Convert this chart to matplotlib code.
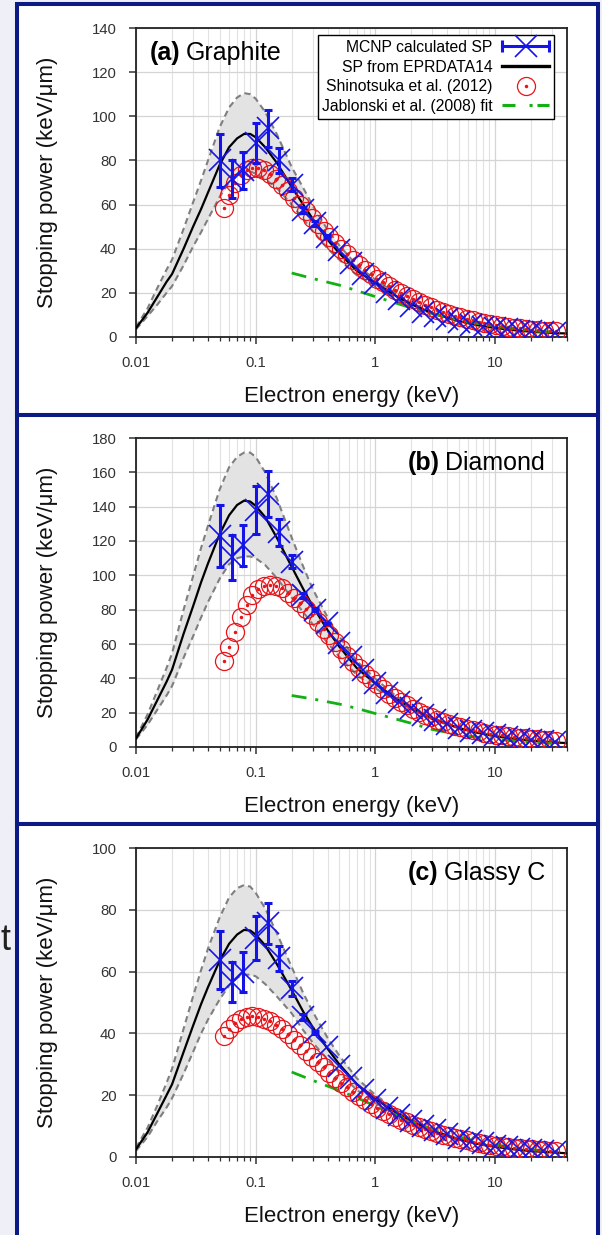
import matplotlib
matplotlib.use('Agg')
import matplotlib.pyplot as plt
from matplotlib.lines import Line2D
from matplotlib.patches import Rectangle
from matplotlib.legend_handler import HandlerLine2D, HandlerTuple
from matplotlib.ticker import LogLocator, NullFormatter

plt.rcParams['font.family'] = ['Liberation Sans', 'DejaVu Sans']

# ---- data ----
# EPRDATA14 stopping power (black line) and its uncertainty band (grey)
E_line = [0.01, 0.0125, 0.015, 0.018, 0.02, 0.025, 0.03, 0.035, 0.04, 0.05, 0.06, 0.07,
          0.08, 0.09, 0.1, 0.12, 0.15, 0.2, 0.25, 0.3, 0.4, 0.5, 0.7, 1, 1.5, 2, 3, 5,
          7, 10, 15, 20, 30, 40]

black_a = [4, 11, 18, 25, 28.5, 40, 50, 58, 65.5, 78, 86, 90, 92, 92, 90.5, 86, 79, 68,
           60, 53.5, 44, 38, 30, 24.5, 18.5, 14.8, 10.8, 7.2, 5.4, 4.1, 3, 2.4, 1.8, 1.6]
upper_a = [4.5, 13, 22, 30.5, 35, 49, 61, 71, 80, 95, 104, 108.5, 110.5, 110, 108, 102, 92,
           77, 67.5, 59.5, 48.5, 41.5, 32.5, 26, 19.6, 15.5, 11.2, 7.3]
lower_a = [3.5, 9.5, 14.5, 20, 23, 32.5, 41, 47.5, 53.5, 63.5, 70, 73, 74.5, 75, 74, 71.5,
           67.5, 60, 53.5, 48, 40, 35, 28, 23, 17.5, 14.2, 10.4, 7.1]

black_b = [5, 16, 27, 38, 45, 66, 82, 96, 107, 124, 135, 141, 143.5, 143, 140.5, 134, 122,
           105, 92, 82, 68, 58.5, 46, 37, 28, 22.8, 16.5, 11, 8.4, 6.3, 4.6, 3.7, 2.7, 2.3]
upper_b = [5.5, 19, 32.5, 46, 54.5, 80, 99.5, 116, 129, 150, 163, 169, 171.5, 171.5, 169,
           160, 145, 122, 105, 92, 75.5, 64.5, 50, 39.8, 29.5, 23.6, 16.9, 11.1]
lower_b = [4.5, 13, 21.5, 30, 35.5, 52, 64.5, 75.5, 84.5, 98, 106.5, 110, 111, 111, 110,
           106, 98.5, 87, 78.5, 71.5, 60.5, 52.5, 42, 34.2, 26.5, 22, 16.1, 10.9]

black_c = [2.5, 8, 14, 20, 23.5, 34, 42.5, 49.5, 55, 63.5, 69, 72, 73.5, 73.3, 72, 68.5,
           62.5, 54, 47, 42, 35, 30, 23.6, 18.8, 14.3, 11.7, 8.5, 5.7, 4.3, 3.3, 2.4, 1.9,
           1.5, 1.2]
upper_c = [3, 9.5, 16.5, 24, 28.5, 41.5, 52, 60.5, 67.5, 77.5, 84, 87, 88, 87.5, 85.5, 80.5,
           72.5, 61.5, 53, 47, 38.5, 32.8, 25.5, 20.1, 15.1, 12.2, 8.7, 5.8]
lower_c = [2, 6.5, 11.5, 16, 19, 27, 34, 40, 44.5, 51, 55.5, 58, 59, 59, 58.5, 56, 52, 46.5,
           41, 37, 31.5, 27.2, 21.7, 17.5, 13.5, 11.2, 8.3, 5.6]

# MCNP calculated SP (blue crosses with error bars)
mcnp_E = [0.05, 0.063, 0.079, 0.1, 0.126, 0.158, 0.2, 0.251, 0.316, 0.398, 0.501, 0.631,
          0.794, 1.0, 1.26, 1.58, 2.0, 2.51, 3.16, 3.98, 5.01, 6.31, 7.94, 10.0, 12.6, 15.8,
          20.0, 25.1, 31.6]
mcnp_a = [80, 71.5, 75.5, 88, 94.5, 80, 69, 57.5, 51.5, 45.5, 39.5, 33.5, 28.5, 24.5, 20.5,
          17, 14, 11.5, 9.5, 8, 6.7, 5.6, 4.7, 4, 3.4, 2.9, 2.5, 2.2, 1.9]
err_a = [12, 8.5, 8.5, 9, 8.5, 5.5, 3, 1.5, 1, 0.5, 0, 0, 0, 0, 0, 0, 0, 0, 0, 0, 0, 0, 0,
         0, 0, 0, 0, 0, 0]
mcnp_b = [123, 110.5, 117.5, 138, 147.5, 125, 108, 88.5, 80, 72, 60.5, 52.5, 45, 37, 31.5,
          26.5, 22.5, 18.8, 15.8, 13.2, 11, 9.3, 7.9, 6.7, 5.7, 4.9, 4.2, 3.7, 3.2]
err_b = [18, 13, 12, 14, 13.5, 8, 4, 1.5, 1, 0.5, 0, 0, 0, 0, 0, 0, 0, 0, 0, 0, 0, 0, 0,
         0, 0, 0, 0, 0, 0]
mcnp_c = [63.8, 56.7, 60, 70.8, 75.6, 64.3, 54.6, 45.4, 40.3, 35.7, 29.5, 25.5, 21.7, 18.4,
          15.8, 13.6, 11.7, 10, 8.6, 7.3, 6.2, 5.2, 4.4, 3.7, 3.1, 2.6, 2.2, 1.9, 1.6]
err_c = [9.5, 6.5, 6.5, 7.2, 6.6, 4, 2.5, 1, 0.5, 0, 0, 0, 0, 0, 0, 0, 0, 0, 0, 0, 0, 0, 0,
         0, 0, 0, 0, 0, 0]

# Shinotsuka et al. (2012) (red open circles)
shin_E = [0.054, 0.06, 0.067, 0.075, 0.084, 0.094, 0.105, 0.118, 0.132, 0.148,
          0.166, 0.186, 0.208, 0.233, 0.262, 0.293, 0.33, 0.37, 0.41, 0.46,
          0.52, 0.58, 0.65, 0.73, 0.82, 0.92, 1.03, 1.16, 1.3, 1.45,
          1.63, 1.83, 2.05, 2.3, 2.6, 2.9, 3.25, 3.65, 4.1, 4.6,
          5.1, 5.8, 6.5, 7.3, 8.1, 9.1, 10.2, 11.5, 12.9, 14.4,
          16.2, 18.2, 20.4, 22.9, 25.6, 28.7, 32.2]
shin_a = [58.5, 64.5, 70, 73.5, 75.5, 76.5, 76.5, 75.5, 74, 71.5,
          69, 66, 63, 60, 57, 54, 51, 48, 45.5, 42.5,
          40, 37.5, 35, 32.5, 30.5, 28.5, 26.5, 24.7, 23, 21.4,
          19.8, 18.4, 17, 15.7, 14.5, 13.4, 12.4, 11.4, 10.5, 9.7,
          9, 8.3, 7.6, 7, 6.4, 5.9, 5.4, 5, 4.6, 4.2,
          3.9, 3.6, 3.3, 3.1, 2.9, 2.7, 2.5]
shin_b = [50, 58.3, 67, 76, 83, 88.5, 92, 94, 94.5, 94,
          92.5, 90, 87, 84, 80.5, 77, 73, 69, 65, 61,
          57, 53, 49.5, 46, 42.5, 39.5, 36.5, 33.7, 31, 28.7,
          26.4, 24.3, 22.4, 20.6, 18.9, 17.4, 16, 14.7, 13.6, 12.5,
          11.6, 10.7, 9.9, 9.1, 8.4, 7.8, 7.2, 6.7, 6.2, 5.8,
          5.4, 5, 4.7, 4.4, 4.1, 3.8, 3.6]
shin_c = [39.2, 41.5, 43.3, 44.5, 45.2, 45.5, 45.4, 44.8, 44, 42.8,
          41.3, 39.7, 38, 36.2, 34.3, 32.5, 30.7, 29, 27.3, 25.7,
          24.1, 22.6, 21.1, 19.7, 18.4, 17.2, 16, 14.9, 13.9, 12.9,
          12, 11.2, 10.4, 9.7, 9, 8.4, 7.8, 7.2, 6.7, 6.2,
          5.8, 5.4, 5, 4.6, 4.3, 4, 3.7, 3.5, 3.2, 3,
          2.8, 2.6, 2.5, 2.3, 2.2, 2.1, 2]

# Jablonski et al. (2008) fit (green dash-dot)
jab_E = [0.2, 0.3, 0.5, 0.7, 1, 1.5, 2, 3, 5, 7, 10, 20, 30]
jab_a = [29, 26.5, 23.5, 21, 18.3, 15.3, 13.2, 10.6, 7.7, 6.2, 4.8, 2.9, 2.2]
jab_b = [30, 28, 25, 22.5, 19.5, 16.2, 13.8, 10.2, 7.2, 5.8, 4.5, 2.8, 2.1]
jab_c = [27.5, 24.8, 21.5, 19.2, 16.5, 13.5, 11.5, 9, 6.5, 5.1, 3.9, 2.4, 1.8]

x_ticks = [0.01, 0.1, 1, 10]
x_labels = ['0.01', '0.1', '1', '10']
legend_labels = ['MCNP calculated SP', 'SP from EPRDATA14',
                 'Shinotsuka et al. (2012)', 'Jablonski et al. (2008) fit']

BLUE = '#1414e6'
RED = '#e8141a'
GREEN = '#12b012'
NAVY = '#0b1a85'
JAB_LS = (0, (5.4, 3.2, 1.1, 3.2))

W, H = 602, 1235


def px_box(x0, y0, x1, y1):
    # pixel box (top-left origin) -> figure fraction rect
    return [x0 / W, 1 - y1 / H, (x1 - x0) / W, (y1 - y0) / H]


def draw_panel(ax, black, upper, lower, shin, mcnp, err, jab, ymax):
    band_E = E_line[:len(upper)]
    ax.fill_between(band_E, lower, upper, color='#e3e3e3', lw=0, zorder=1.5)
    ax.plot(band_E, upper, color='#7f7f7f', ls=(0, (3, 2)), lw=1.5, zorder=2)
    ax.plot(band_E, lower, color='#7f7f7f', ls=(0, (3, 2)), lw=1.5, zorder=2)
    ax.plot(E_line, black, color='black', lw=1.6, zorder=3)
    ax.plot(jab_E, jab, color=GREEN, lw=2, ls=JAB_LS, zorder=3)

    # Shinotsuka: open circles with a small centre dot
    ax.plot(shin_E, shin, ls='none', marker='o', ms=13, mfc='none', mec=RED, mew=0.9, zorder=4)
    ax.plot(shin_E, shin, ls='none', marker='o', ms=1.5, color=RED, zorder=4)

    # MCNP: error bars only where they are visible
    idx = [i for i, e in enumerate(err) if e > 0]
    ax.errorbar([mcnp_E[i] for i in idx], [mcnp[i] for i in idx],
                yerr=[err[i] for i in idx], fmt='none', ecolor=BLUE,
                elinewidth=2.2, capsize=2.8, capthick=2.2, zorder=5)
    ax.plot(mcnp_E, mcnp, ls='none', marker='x', ms=16, mew=1.2, color=BLUE, zorder=6)

    ax.set_xscale('log')
    ax.set_xlim(0.01, 40)
    ax.set_ylim(0, ymax)
    ax.set_yticks(range(0, ymax + 1, 20))
    ax.set_xticks(x_ticks)
    ax.set_xticklabels(x_labels)
    ax.xaxis.set_minor_locator(LogLocator(base=10, subs=range(2, 10)))
    ax.xaxis.set_minor_formatter(NullFormatter())

    ax.grid(True, which='major', color='#d4d4d4', lw=0.9, zorder=0)
    ax.grid(True, which='minor', axis='x', color='#e2e2e2', lw=0.8, zorder=0)
    ax.set_axisbelow(True)

    ax.tick_params(which='major', direction='out', length=5, width=1.1,
                   colors='#333333', labelsize=10.7)
    ax.tick_params(which='minor', direction='out', length=3, width=0.9, colors='#333333')
    ax.tick_params(axis='y', pad=9)
    ax.tick_params(axis='x', which='major', pad=8.5)
    for s in ax.spines.values():
        s.set_color('#222222')
        s.set_linewidth(1.3)

    ax.set_ylabel('Stopping power (keV/μm)', fontsize=16, color='#111111')
    ax.set_xlabel('Electron energy (keV)', fontsize=16, color='#111111')
    ax.yaxis.set_label_coords(-0.181, 0.5)
    ax.xaxis.set_label_coords(0.5, -0.158)


def add_title(ax, tag, name, left=True):
    if left:
        t1 = ax.text(0.032, 0.92, tag, transform=ax.transAxes, fontsize=18,
                     fontweight='bold', ha='left', va='center', zorder=10)
        ax.annotate(name, xy=(1, 0), xycoords=t1, xytext=(4, 0),
                    textcoords='offset points', fontsize=18, ha='left', va='bottom', zorder=10)
    else:
        t2 = ax.text(0.949, 0.92, name, transform=ax.transAxes, fontsize=18,
                     ha='right', va='center', zorder=10)
        ax.annotate(tag, xy=(0, 0), xycoords=t2, xytext=(-4, 0),
                    textcoords='offset points', fontsize=18, fontweight='bold',
                    ha='right', va='bottom', zorder=10)


def add_legend(ax):
    caps = Line2D([], [], color=BLUE, lw=2.2, marker='|', ms=9, mew=2.2)
    xmark = Line2D([], [], ls='none', marker='x', ms=16, mew=1.2, color=BLUE)
    eline = Line2D([], [], color='black', lw=2.4)
    circ = Line2D([], [], ls='none', marker='o', ms=13, mfc='none', mec=RED, mew=0.9)
    dot = Line2D([], [], ls='none', marker='o', ms=1.5, color=RED)
    # legend sample: dash, gap, dot, short gap, dash
    jline = Line2D([], [], color=GREEN, lw=2.2, ls=(0, (4.25, 4.6, 1, 1.6)))
    handles = [(caps, xmark), eline, (circ, dot), jline]
    hmap = {caps: HandlerLine2D(numpoints=2, marker_pad=0),
            (caps, xmark): HandlerTuple(ndivide=1),
            (circ, dot): HandlerTuple(ndivide=1)}
    leg = ax.legend(handles, legend_labels, handler_map=hmap, numpoints=1,
                    markerfirst=False, loc='upper right', bbox_to_anchor=(0.97, 0.977),
                    borderaxespad=0, fontsize=11.3, handlelength=3, handletextpad=0.6,
                    labelspacing=0.3, borderpad=0.3, fancybox=False,
                    edgecolor='black', framealpha=1)
    leg.get_frame().set_linewidth(1.0)
    leg.set_zorder(20)


fig = plt.figure(figsize=(W / 100, H / 100), dpi=100, facecolor='#efeff7')

# slide panels with dark blue borders
for (y0, y1) in [(4, 415), (415, 824), (824, 1240)]:
    fig.add_artist(Rectangle((17 / W, 1 - y1 / H), (598 - 17) / W, (y1 - y0) / H,
                             transform=fig.transFigure, facecolor='white',
                             edgecolor=NAVY, lw=2.9, zorder=0))
# letter of the slide text peeking out at the left edge
fig.text(0.5 / W, 1 - 940 / H, 't', fontsize=26, ha='left', va='center', color='#222222')

ax_a = fig.add_axes(px_box(136, 28, 567, 337))
ax_b = fig.add_axes(px_box(136, 438, 567, 747))
ax_c = fig.add_axes(px_box(136, 848, 567, 1157))

draw_panel(ax_a, black_a, upper_a, lower_a, shin_a, mcnp_a, err_a, jab_a, 140)
draw_panel(ax_b, black_b, upper_b, lower_b, shin_b, mcnp_b, err_b, jab_b, 180)
draw_panel(ax_c, black_c, upper_c, lower_c, shin_c, mcnp_c, err_c, jab_c, 100)

add_title(ax_a, '(a)', 'Graphite', left=True)
add_title(ax_b, '(b)', 'Diamond', left=False)
add_title(ax_c, '(c)', 'Glassy C', left=False)
add_legend(ax_a)

fig.savefig('out.png', dpi=100, facecolor=fig.get_facecolor())
